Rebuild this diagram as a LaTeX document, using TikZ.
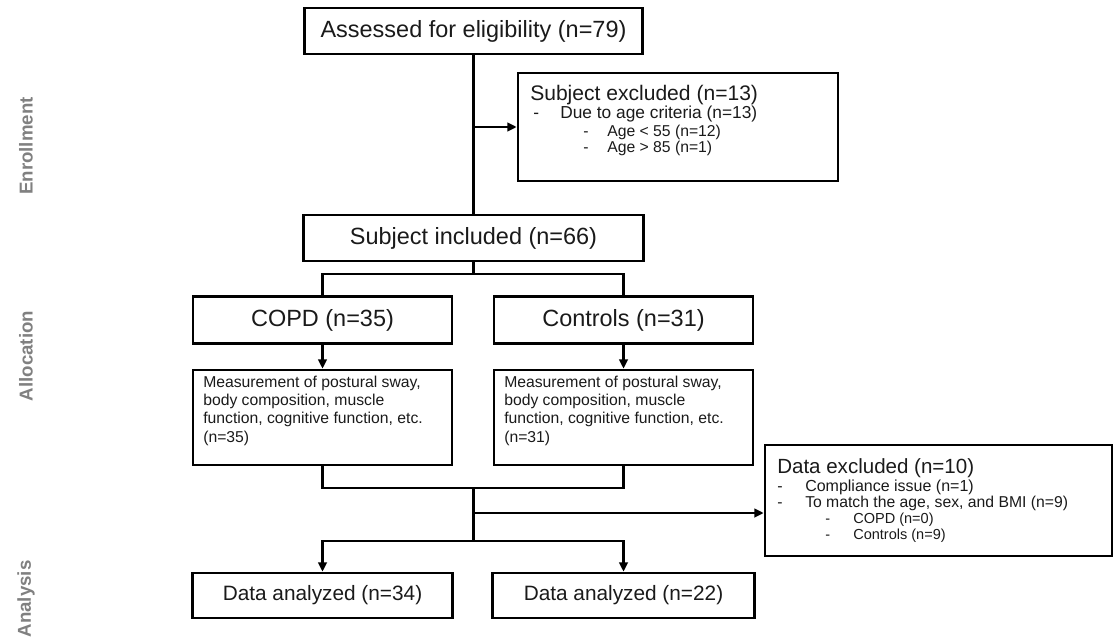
\documentclass[tikz,border=0pt]{standalone}
\usepackage{fontspec}
\setmainfont{Liberation Sans}
\usetikzlibrary{arrows.meta}
\definecolor{txt}{HTML}{1A1A1A}
\definecolor{labgray}{HTML}{808080}
\begin{document}
\begin{tikzpicture}[x=0.75pt,y=-0.75pt,
  box/.style={draw=black, line width=2pt, inner sep=0pt, rectangle, text=txt},
  conn/.style={line width=2pt, line join=miter},
  arr/.style={conn, -{Triangle[length=7pt,width=6.5pt]}},
  big/.style={font=\fontsize{17.6}{20}\selectfont},
  mid/.style={font=\fontsize{15.6}{18}\selectfont},
  tl/.style={anchor=base west, inner sep=0pt, text=txt},
  lab/.style={rotate=90, font=\bfseries\fontsize{14}{16}\selectfont, text=labgray, inner sep=0pt}
]
\useasboundingbox (0,0) rectangle (1118,639);

% side labels
\node[lab] (labE) at (26,146) {Enrollment};
\node[lab] (labA) at (26,356) {Allocation};
\node[lab] (labN) at (26,599) {Analysis};

% main boxes
\node[box, big, minimum width=253.5pt, minimum height=34.5pt] (assess) at (473.5,31) {Assessed for eligibility (n=79)};
\node[box, minimum width=240pt, minimum height=81pt] (excl1) at (678,127) {};
\node[box, big, minimum width=255pt, minimum height=34.5pt] (incl) at (473.5,238) {Subject included (n=66)};
\node[box, big, minimum width=194.25pt, minimum height=35pt] (copd) at (322.5,320) {COPD (n=35)};
\node[box, big, minimum width=194.25pt, minimum height=35pt] (ctrl) at (623.5,320) {Controls (n=31)};
\node[box, minimum width=194.25pt, minimum height=71.25pt] (measL) at (322.5,417.5) {};
\node[box, minimum width=194.25pt, minimum height=71.25pt] (measR) at (623.5,417.5) {};
\node[box, minimum width=260.25pt, minimum height=83.25pt] (excl2) at (938.5,500.5) {};
\node[box, mid, minimum width=195pt, minimum height=33.75pt] (anaL) at (322.5,595.5) {Data analyzed (n=34)};
\node[box, mid, minimum width=196.5pt, minimum height=33.75pt] (anaR) at (623.5,595.5) {Data analyzed (n=22)};

% texts of subject excluded
\node[tl, font=\fontsize{15.8}{18}\selectfont] (e1a) at (530,100) {Subject excluded (n=13)};
\node[tl, font=\fontsize{13}{15}\selectfont] (e1bd) at (533,118) {-};
\node[tl, font=\fontsize{13}{15}\selectfont] (e1b) at (560,118) {Due to age criteria (n=13)};
\node[tl, font=\fontsize{11.8}{14}\selectfont] (e1cd) at (583,136.5) {-};
\node[tl, font=\fontsize{11.8}{14}\selectfont] (e1c) at (607,136.5) {Age < 55 (n=12)};
\node[tl, font=\fontsize{11.8}{14}\selectfont] (e1ed) at (583,152) {-};
\node[tl, font=\fontsize{11.8}{14}\selectfont] (e1e) at (607,152) {Age > 85 (n=1)};

% measurement texts
\node[anchor=north west, inner sep=0pt, align=left, text=txt, font=\fontsize{11.8}{13.8}\selectfont] (mLt) at (203,375.5) {Measurement of postural sway,\\body composition, muscle\\function, cognitive function, etc.\\(n=35)};
\node[anchor=north west, inner sep=0pt, align=left, text=txt, font=\fontsize{11.8}{13.8}\selectfont] (mRt) at (504,375.5) {Measurement of postural sway,\\body composition, muscle\\function, cognitive function, etc.\\(n=31)};

% texts of data excluded
\node[tl, font=\fontsize{15.4}{18}\selectfont] (e2a) at (777,473.5) {Data excluded (n=10)};
\node[tl, font=\fontsize{12}{14}\selectfont] (e2bd) at (777,491) {-};
\node[tl, font=\fontsize{12}{14}\selectfont] (e2b) at (805,491) {Compliance issue (n=1)};
\node[tl, font=\fontsize{11.8}{14}\selectfont] (e2cd) at (777,507.5) {-};
\node[tl, font=\fontsize{11.8}{14}\selectfont] (e2c) at (805,507.5) {To match the age, sex, and BMI (n=9)};
\node[tl, font=\fontsize{10.9}{13}\selectfont] (e2dd) at (825,523.5) {-};
\node[tl, font=\fontsize{10.9}{13}\selectfont] (e2d) at (853,523.5) {COPD (n=0)};
\node[tl, font=\fontsize{10.9}{13}\selectfont] (e2ed) at (825,539.5) {-};
\node[tl, font=\fontsize{10.9}{13}\selectfont] (e2e) at (853,539.5) {Controls (n=9)};

% connectors
\coordinate (j1) at (473.5,127);
\coordinate (s1) at (473.5,274);
\coordinate (m1) at (473.5,488);
\coordinate (m2) at (473.5,541);
\coordinate (m3) at (473.5,513);

\draw[conn] (assess.south) -- (incl.north);
\draw[arr] (j1) -- (excl1.west);
\draw[conn] (incl.south) -- (s1);
\draw[conn] (copd.north) |- (s1) -| (ctrl.north);
\draw[arr] (copd.south) -- (measL.north);
\draw[arr] (ctrl.south) -- (measR.north);
\draw[conn] (measL.south) |- (m1) -| (measR.south);
\draw[conn] (m1) -- (m2);
\draw[arr] (m2) -| (anaL.north);
\draw[arr] (m2) -| (anaR.north);
\draw[arr] (m3) -- (m3 -| excl2.west);
\end{tikzpicture}
\end{document}
